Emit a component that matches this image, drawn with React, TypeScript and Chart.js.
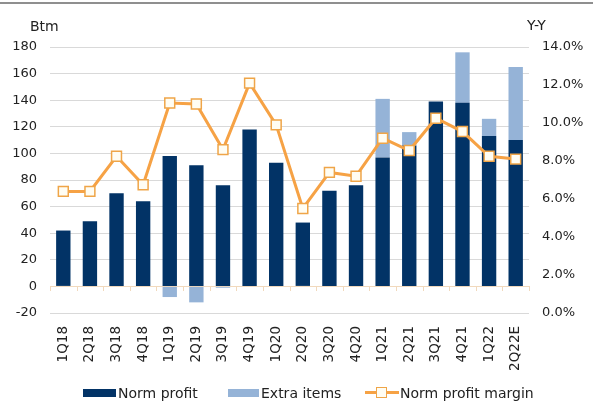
import React, { useEffect, useRef } from "react";
import { Chart, registerables } from "chart.js";
Chart.register(...registerables);

const categories = ["1Q18", "2Q18", "3Q18", "4Q18", "1Q19", "2Q19", "3Q19", "4Q19", "1Q20", "2Q20", "3Q20", "4Q20", "1Q21", "2Q21", "3Q21", "4Q21", "1Q22", "2Q22E"];
const normProfit = [42, 49, 70, 64, 98, 91, 76, 118, 93, 48, 72, 76, 97, 106, 139, 138, 113, 110];
const extraItems = [0, 0, 0, 0, -8, -12, -1, 0, 0, 0, 0, 0, 44, 10, 0, 38, 13, 55];
const normProfitMargin = [6.4, 6.4, 8.25, 6.75, 11.05, 11.0, 8.6, 12.1, 9.9, 5.5, 7.4, 7.2, 9.2, 8.55, 10.25, 9.55, 8.25, 8.1];

const leftTicks = { min: -20, max: 180, step: 20 };
const rightTicks = { min: 0, max: 14, step: 2 };

const FONT = "'DejaVu Sans', sans-serif";
const DARK = "#023366";
const LIGHT = "#95b3d7";
const ORANGE = "#f6a245";
const TEXT = "#222222";

const zeroLinePlugin = {
  id: "zeroLine",
  beforeDatasetsDraw(chart: any) {
    const { ctx, scales } = chart;
    const y = scales.y.getPixelForValue(0);
    const x = scales.x;
    ctx.save();
    ctx.strokeStyle = "#f1d9bd";
    ctx.lineWidth = 1;
    ctx.beginPath();
    ctx.moveTo(x.left, Math.round(y) + 0.5);
    ctx.lineTo(x.right, Math.round(y) + 0.5);
    const n = categories.length;
    for (let i = 0; i <= n; i++) {
      const px = Math.round(x.left + ((x.right - x.left) * i) / n) + 0.5;
      ctx.moveTo(px, Math.round(y));
      ctx.lineTo(px, Math.round(y) + 5);
    }
    ctx.stroke();
    ctx.restore();
  },
};

export default function App() {
  const ref = useRef<HTMLCanvasElement | null>(null);
  useEffect(() => {
    if (!ref.current) return;
    const chart = new Chart(ref.current, {
      type: "bar",
      data: {
        labels: categories,
        datasets: [
          {
            type: "line",
            label: "Norm profit margin",
            data: normProfitMargin,
            yAxisID: "y1",
            borderColor: ORANGE,
            borderWidth: 3,
            pointStyle: "rect",
            pointRadius: 7,
            pointBorderWidth: 1.5,
            pointBorderColor: "#efa548",
            pointBackgroundColor: "#fffdf3",
            tension: 0,
            order: 0,
          } as any,
          {
            label: "Norm profit",
            data: normProfit,
            backgroundColor: DARK,
            stack: "s",
            yAxisID: "y",
            barPercentage: 0.54,
            categoryPercentage: 1,
            order: 1,
          },
          {
            label: "Extra items",
            data: extraItems,
            backgroundColor: LIGHT,
            stack: "s",
            yAxisID: "y",
            barPercentage: 0.54,
            categoryPercentage: 1,
            order: 1,
          },
        ],
      },
      options: {
        animation: false,
        responsive: false,
        maintainAspectRatio: false,
        layout: { padding: { top: 47, left: 0, right: 0, bottom: 0 } },
        plugins: { legend: { display: false }, tooltip: { enabled: false } },
        scales: {
          x: {
            stacked: true,
            grid: { display: false, drawTicks: false },
            border: { display: false },
            ticks: {
              minRotation: 90,
              maxRotation: 90,
              padding: 13,
              autoSkip: false,
              color: TEXT,
              font: { family: FONT, size: 13.5 },
            },
            afterFit: (s: any) => {
              s.height = 95;
            },
          },
          y: {
            stacked: true,
            position: "left",
            min: leftTicks.min,
            max: leftTicks.max,
            ticks: {
              stepSize: leftTicks.step,
              padding: 13,
              color: TEXT,
              font: { family: FONT, size: 13 },
            },
            grid: {
              drawTicks: false,
              color: (c: any) => (c.tick && c.tick.value === 0 ? "rgba(0,0,0,0)" : "#d9d9d9"),
            },
            border: { display: false },
            afterFit: (s: any) => {
              s.width = 50;
            },
          },
          y1: {
            position: "right",
            min: rightTicks.min,
            max: rightTicks.max,
            ticks: {
              stepSize: rightTicks.step,
              padding: 13,
              color: TEXT,
              font: { family: FONT, size: 13 },
              callback: (v: any) => Number(v).toFixed(1) + "%",
            },
            grid: { display: false, drawTicks: false },
            border: { display: false },
            afterFit: (s: any) => {
              s.width = 68;
            },
          },
        },
      },
      plugins: [zeroLinePlugin],
    });
    return () => chart.destroy();
  }, []);

  const txt: React.CSSProperties = {
    position: "absolute",
    fontFamily: FONT,
    fontSize: 14,
    color: TEXT,
    lineHeight: "16px",
    whiteSpace: "nowrap",
  };

  return (
    <div style={{ position: "fixed", left: 0, top: 0, width: 597, height: 408, background: "#fff", overflow: "hidden" }}>
      <div style={{ position: "absolute", left: 0, top: 2, width: 593, height: 2, background: "#8f8f8f" }} />
      <canvas ref={ref} width={597} height={408} style={{ position: "absolute", left: 0, top: 0, width: 597, height: 408 }} />
      <div style={{ ...txt, left: 30, top: 18 }}>Btm</div>
      <div style={{ ...txt, left: 527, top: 17 }}>Y-Y</div>
      <div style={{ position: "absolute", left: 83, top: 389, width: 33, height: 8, background: DARK }} />
      <div style={{ ...txt, left: 118, top: 385 }}>Norm profit</div>
      <div style={{ position: "absolute", left: 228, top: 389, width: 31, height: 8, background: LIGHT }} />
      <div style={{ ...txt, left: 261, top: 385 }}>Extra items</div>
      <div style={{ position: "absolute", left: 365, top: 391, width: 34, height: 3, background: ORANGE }} />
      <div
        style={{
          position: "absolute",
          left: 376,
          top: 387,
          width: 9,
          height: 9,
          background: "#fffdf3",
          border: "1.5px solid #efa548",
        }}
      />
      <div style={{ ...txt, left: 400, top: 385 }}>Norm profit margin</div>
    </div>
  );
}
